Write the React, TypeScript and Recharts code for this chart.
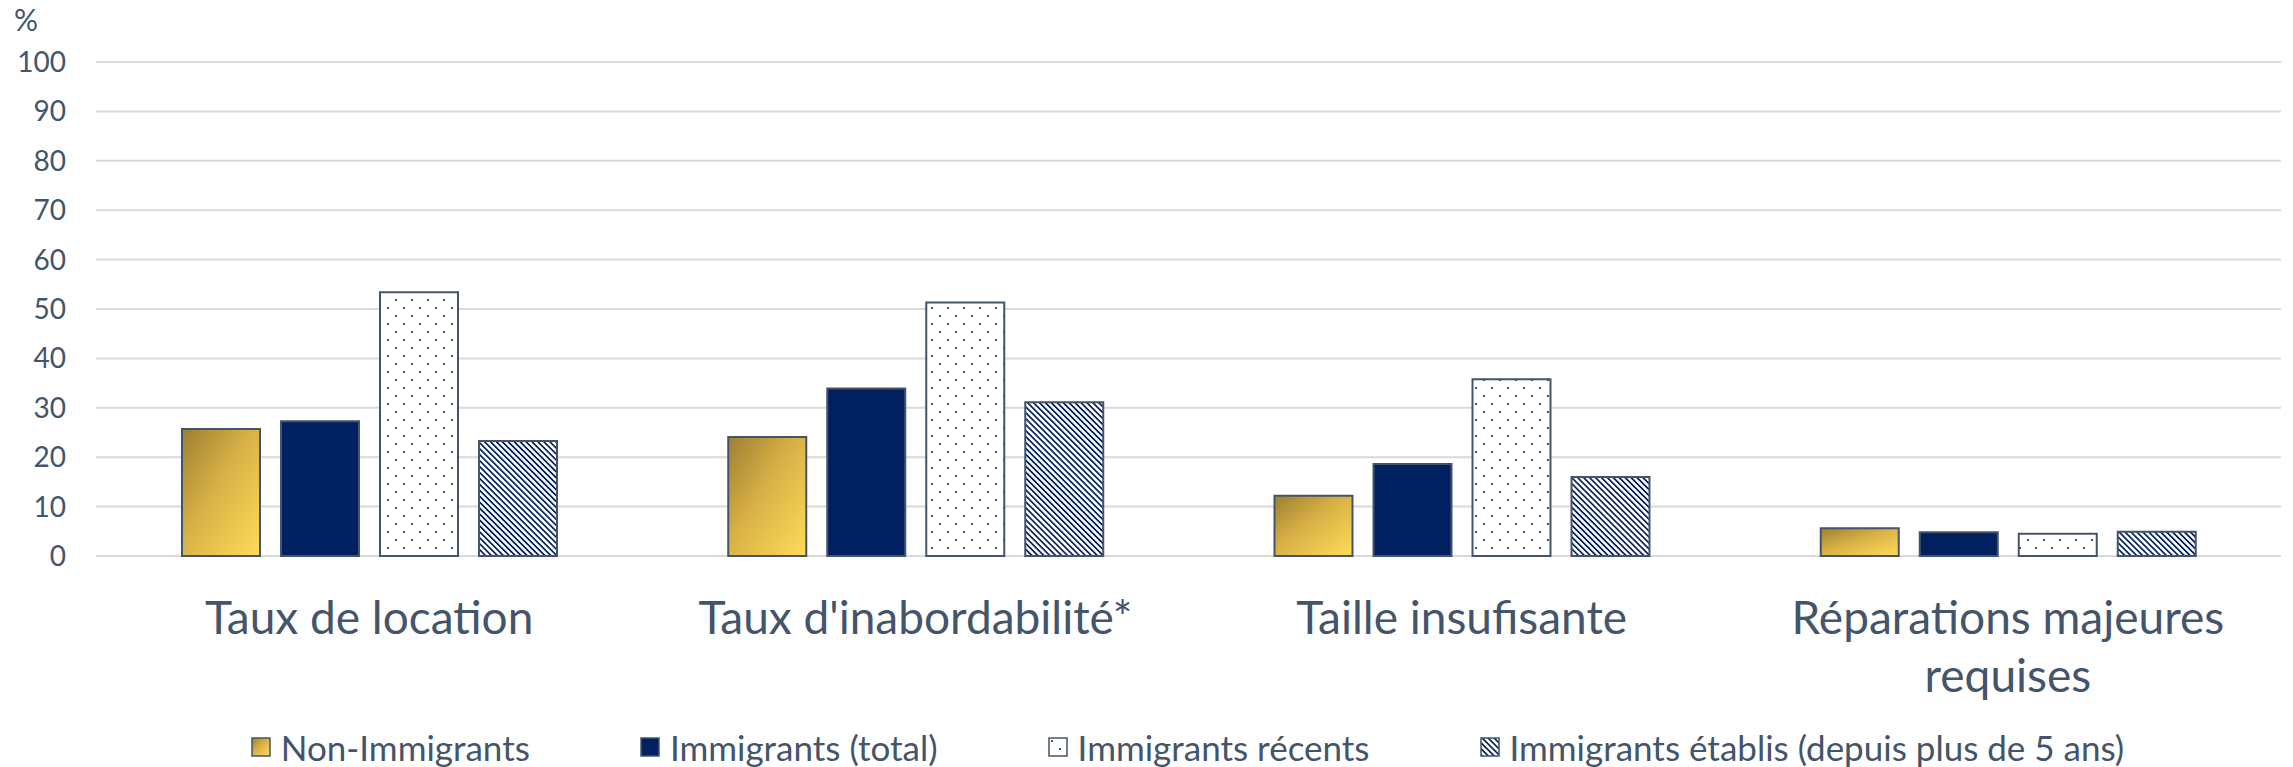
import React from 'react';
import {
  BarChart,
  Bar,
  XAxis,
  YAxis,
  CartesianGrid,
  Legend,
} from 'recharts';

const categories = [
  'Taux de location',
  "Taux d'inabordabilité*",
  'Taille insufisante',
  'Réparations majeures requises',
];

const nonImmigrants = [25.7, 24.1, 12.2, 5.6];
const immigrantsTotal = [27.3, 33.9, 18.6, 4.8];
const immigrantsRecents = [53.4, 51.3, 35.8, 4.5];
const immigrantsEtablis = [23.3, 31.1, 16.0, 4.9];

const yTicks = [0, 10, 20, 30, 40, 50, 60, 70, 80, 90, 100];

const SERIES = [
  { key: 'nonImm', name: 'Non-Immigrants', fill: 'url(#goldGrad)' },
  { key: 'immTotal', name: 'Immigrants (total)', fill: '#002060' },
  { key: 'immRecent', name: 'Immigrants récents', fill: 'url(#dotPat)' },
  { key: 'immEtabli', name: 'Immigrants établis (depuis plus de 5 ans)', fill: 'url(#hatchPat)' },
];

const TEXT = '#44546A';
const FONT = 'Lato, "Open Sans", sans-serif';

const data = categories.map((name, i) => ({
  name,
  nonImm: nonImmigrants[i],
  immTotal: immigrantsTotal[i],
  immRecent: immigrantsRecents[i],
  immEtabli: immigrantsEtablis[i],
}));

// simple word wrap for the category labels
const wrap = (label: string, max = 22) => {
  const lines: string[] = [];
  let cur = '';
  label.split(' ').forEach(w => {
    const next = cur ? `${cur} ${w}` : w;
    if (next.length > max && cur) {
      lines.push(cur);
      cur = w;
    } else {
      cur = next;
    }
  });
  if (cur) lines.push(cur);
  return lines;
};

const CategoryTick = (props: any) => {
  const { x, y, payload } = props;
  const lines = wrap(payload.value);
  return (
    <text
      x={x}
      y={y + 76}
      textAnchor="middle"
      fill={TEXT}
      fontSize={46}
      fontFamily={FONT}
    >
      {lines.map((l, i) => (
        <tspan key={i} x={x} dy={i === 0 ? 0 : 58}>
          {l}
        </tspan>
      ))}
    </text>
  );
};

const LegendContent = () => (
  <div
    style={{
      display: 'flex',
      justifyContent: 'center',
      alignItems: 'center',
      gap: 110,
      height: 40,
      paddingLeft: 94,
      fontFamily: FONT,
      fontSize: 35,
      color: TEXT,
    }}
  >
    {SERIES.map(s => (
      <div key={s.key} style={{ display: 'flex', alignItems: 'center' }}>
        <svg width={20} height={20} style={{ marginRight: 10 }}>
          <rect x={1} y={1} width={18} height={18} fill={s.fill} stroke={TEXT} strokeWidth={1.5} />
        </svg>
        <span>{s.name}</span>
      </div>
    ))}
  </div>
);

export default function App() {
  return (
    <div style={{ position: 'absolute', left: 0, top: 0, width: 2293, height: 767, background: '#fff' }}>
      <div
        style={{
          position: 'absolute',
          left: 14,
          top: 1,
          fontFamily: FONT,
          fontSize: 30,
          color: TEXT,
          lineHeight: '36px',
        }}
      >
        %
      </div>
      <BarChart
        width={2293}
        height={767}
        data={data}
        margin={{ top: 62, right: 12, left: 0, bottom: 0 }}
        barSize={78}
        barGap={21}
      >
        <defs>
          <linearGradient id="goldGrad" x1="0" y1="0" x2="1" y2="1">
            <stop offset="0%" stopColor="#9C7F30" />
            <stop offset="45%" stopColor="#D8B146" />
            <stop offset="100%" stopColor="#FFDC57" />
          </linearGradient>
          <pattern id="dotPat" width={16} height={16} patternUnits="userSpaceOnUse">
            <rect width={16} height={16} fill="#fff" />
            <rect x={3} y={3} width={2} height={2} fill={TEXT} />
            <rect x={11} y={11} width={2} height={2} fill={TEXT} />
          </pattern>
          <pattern
            id="hatchPat"
            width={4.2}
            height={4.2}
            patternUnits="userSpaceOnUse"
            patternTransform="rotate(-45)"
          >
            <rect width={4.2} height={4.2} fill="#fff" />
            <rect x={0} y={0} width={1.7} height={4.2} fill="#002060" />
          </pattern>
        </defs>
        <CartesianGrid vertical={false} stroke="#D9D9D9" strokeWidth={2} />
        <XAxis
          dataKey="name"
          axisLine={false}
          tickLine={false}
          tickSize={0}
          height={171}
          interval={0}
          tick={<CategoryTick />}
        />
        <YAxis
          domain={[0, 100]}
          ticks={yTicks}
          width={96}
          axisLine={false}
          tickLine={false}
          tickSize={0}
          tickMargin={30}
          tick={{ fill: TEXT, fontSize: 28, fontFamily: FONT }}
        />
        <Legend verticalAlign="bottom" content={<LegendContent />} />
        {SERIES.map(s => (
          <Bar
            key={s.key}
            dataKey={s.key}
            name={s.name}
            fill={s.fill}
            stroke={TEXT}
            strokeWidth={2}
            isAnimationActive={false}
          />
        ))}
      </BarChart>
    </div>
  );
}
